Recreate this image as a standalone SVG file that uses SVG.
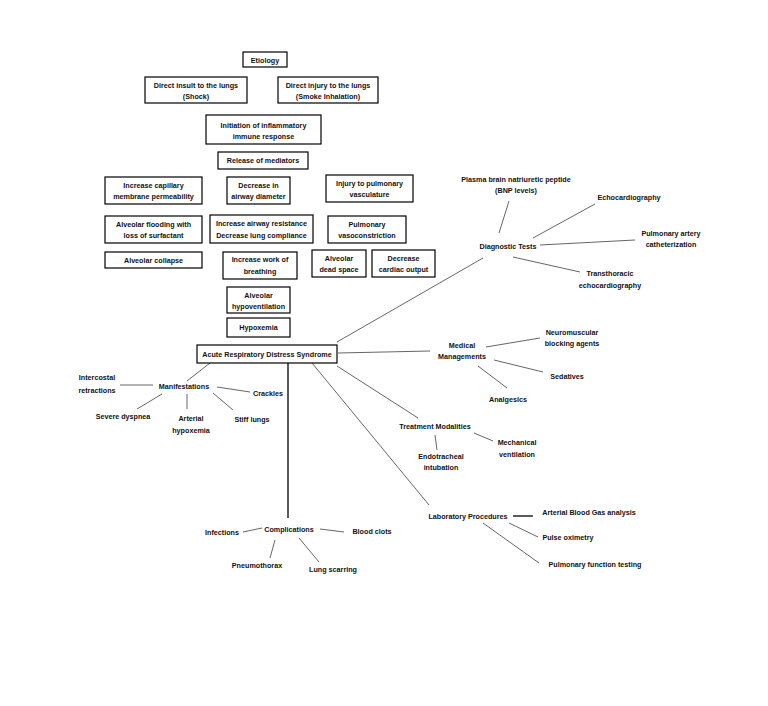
<svg xmlns="http://www.w3.org/2000/svg" width="768" height="706" viewBox="0 0 768 706">
<style>
.b{fill:#fff;stroke:#000;stroke-width:1.2}
text{font-family:"Liberation Sans",Arial,sans-serif;font-size:7.2px;font-weight:bold;fill:#111;text-anchor:middle}
.l{stroke:#555;stroke-width:0.9;fill:none}
.k{stroke:#000;stroke-width:1.3;fill:none}
</style>
<rect width="768" height="706" fill="#fff"/>
<g id="connectors">
<line class="l" x1="337" y1="342" x2="483" y2="258"/>
<line class="l" x1="509" y1="201" x2="499" y2="233"/>
<line class="l" x1="595" y1="204" x2="533" y2="238"/>
<line class="l" x1="635" y1="240" x2="540" y2="245"/>
<line class="l" x1="513" y1="257" x2="580" y2="272"/>
<line class="l" x1="338" y1="353" x2="430" y2="351"/>
<line class="l" x1="486" y1="347" x2="540" y2="338"/>
<line class="l" x1="494" y1="360" x2="543" y2="372"/>
<line class="l" x1="478" y1="366" x2="507" y2="388"/>
<line class="l" x1="337" y1="366" x2="418" y2="418"/>
<line class="l" x1="435" y1="435" x2="437" y2="450"/>
<line class="l" x1="474" y1="433" x2="493" y2="441"/>
<line class="l" x1="312" y1="363" x2="429" y2="505"/>
<line class="k" x1="513" y1="516" x2="533" y2="516"/>
<line class="l" x1="509" y1="523" x2="538" y2="537"/>
<line class="l" x1="483" y1="523" x2="539" y2="563"/>
<line class="k" x1="288" y1="363" x2="288" y2="518"/>
<line class="l" x1="243" y1="532" x2="262" y2="528"/>
<line class="l" x1="320" y1="529" x2="344" y2="532"/>
<line class="l" x1="275" y1="540" x2="270" y2="558"/>
<line class="l" x1="299" y1="538" x2="319" y2="562"/>
<line class="l" x1="210" y1="363" x2="187" y2="381"/>
<line class="l" x1="120" y1="385" x2="153" y2="385"/>
<line class="l" x1="217" y1="387" x2="250" y2="392"/>
<line class="l" x1="162" y1="394" x2="137" y2="409"/>
<line class="l" x1="187" y1="394" x2="187" y2="409"/>
<line class="l" x1="213" y1="393" x2="233" y2="410"/>
</g>
<g id="etiology"><rect class="b" x="243" y="52" width="44" height="15"/><text x="265" y="62.5">Etiology</text></g>
<g id="direct-insult"><rect class="b" x="145" y="77" width="102" height="26"/><text x="196" y="87.5">Direct insult to the lungs</text><text x="196" y="98.5">(Shock)</text></g>
<g id="direct-injury"><rect class="b" x="278" y="77" width="100" height="26"/><text x="328" y="87.5">Direct injury to the lungs</text><text x="328" y="98.5">(Smoke Inhalation)</text></g>
<g id="initiation"><rect class="b" x="206" y="115" width="115" height="29"/><text x="263.5" y="127.5">Initiation of inflammatory</text><text x="263.5" y="138.5">immune response</text></g>
<g id="release"><rect class="b" x="218" y="152" width="90" height="17"/><text x="263" y="163">Release of mediators</text></g>
<g id="capillary"><rect class="b" x="105" y="177" width="97" height="27"/><text x="153.5" y="188">Increase capillary</text><text x="153.5" y="199">membrane permeability</text></g>
<g id="airway-diameter"><rect class="b" x="227" y="177" width="63" height="27"/><text x="258.5" y="188">Decrease in</text><text x="258.5" y="199">airway diameter</text></g>
<g id="vasculature"><rect class="b" x="326" y="175" width="87" height="27"/><text x="369.5" y="186">Injury to pulmonary</text><text x="369.5" y="197">vasculature</text></g>
<g id="flooding"><rect class="b" x="105" y="216" width="97" height="27"/><text x="153.5" y="226.5">Alveolar flooding with</text><text x="153.5" y="237.5">loss of surfactant</text></g>
<g id="resistance"><rect class="b" x="210" y="215" width="103" height="28"/><text x="261.5" y="226">Increase airway resistance</text><text x="261.5" y="237.5">Decrease lung compliance</text></g>
<g id="vasoconstriction"><rect class="b" x="328" y="216" width="78" height="27"/><text x="367" y="226.5">Pulmonary</text><text x="367" y="237.5">vasoconstriction</text></g>
<g id="collapse"><rect class="b" x="105" y="252" width="97" height="16"/><text x="153.5" y="262.5">Alveolar collapse</text></g>
<g id="work"><rect class="b" x="223" y="252" width="74" height="27"/><text x="260" y="262">Increase work of</text><text x="260" y="273.5">breathing</text></g>
<g id="dead-space"><rect class="b" x="312" y="250" width="54" height="27"/><text x="339" y="261">Alveolar</text><text x="339" y="272">dead space</text></g>
<g id="cardiac"><rect class="b" x="372" y="250" width="63" height="27"/><text x="403.5" y="261">Decrease</text><text x="403.5" y="272">cardiac output</text></g>
<g id="hypoventilation"><rect class="b" x="227" y="287" width="63" height="26"/><text x="258.5" y="297.5">Alveolar</text><text x="258.5" y="308.5">hypoventilation</text></g>
<g id="hypoxemia"><rect class="b" x="227" y="318" width="63" height="19"/><text x="258.5" y="330">Hypoxemia</text></g>
<g id="ards"><rect class="b" x="197" y="345" width="140" height="18"/><text x="267" y="357">Acute Respiratory Distress Syndrome</text></g>
<g id="bnp"><text x="516" y="182">Plasma brain natriuretic peptide</text><text x="516" y="193">(BNP levels)</text></g>
<g id="echo"><text x="629" y="200">Echocardiography</text></g>
<g id="pa-cath"><text x="671" y="236">Pulmonary artery</text><text x="671" y="247">catheterization</text></g>
<g id="diagnostic"><text x="508" y="249">Diagnostic Tests</text></g>
<g id="tte"><text x="610" y="276">Transthoracic</text><text x="610" y="288">echocardiography</text></g>
<g id="medical"><text x="462" y="348">Medical</text><text x="462" y="359">Managements</text></g>
<g id="nm-block"><text x="572" y="335">Neuromuscular</text><text x="572" y="346">blocking agents</text></g>
<g id="sedatives"><text x="567" y="379">Sedatives</text></g>
<g id="analgesics"><text x="508" y="402">Analgesics</text></g>
<g id="treatment"><text x="435" y="429">Treatment Modalities</text></g>
<g id="endotracheal"><text x="441" y="459">Endotracheal</text><text x="441" y="470">intubation</text></g>
<g id="mechanical"><text x="517" y="445">Mechanical</text><text x="517" y="457">ventilation</text></g>
<g id="laboratory"><text x="468" y="519">Laboratory Procedures</text></g>
<g id="abg"><text x="589" y="515">Arterial Blood Gas analysis</text></g>
<g id="pulse-ox"><text x="568" y="540">Pulse oximetry</text></g>
<g id="pft"><text x="595" y="567">Pulmonary function testing</text></g>
<g id="manifestations"><text x="184" y="389">Manifestations</text></g>
<g id="intercostal"><text x="97" y="380">Intercostal</text><text x="97" y="393">retractions</text></g>
<g id="crackles"><text x="268" y="396">Crackles</text></g>
<g id="dyspnea"><text x="123" y="419">Severe dyspnea</text></g>
<g id="art-hypox"><text x="191" y="421">Arterial</text><text x="191" y="433">hypoxemia</text></g>
<g id="stiff"><text x="252" y="422">Stiff lungs</text></g>
<g id="complications"><text x="289" y="532">Complications</text></g>
<g id="infections"><text x="222" y="535">Infections</text></g>
<g id="clots"><text x="372" y="534">Blood clots</text></g>
<g id="pneumothorax"><text x="257" y="568">Pneumothorax</text></g>
<g id="scarring"><text x="333" y="572">Lung scarring</text></g>
</svg>
